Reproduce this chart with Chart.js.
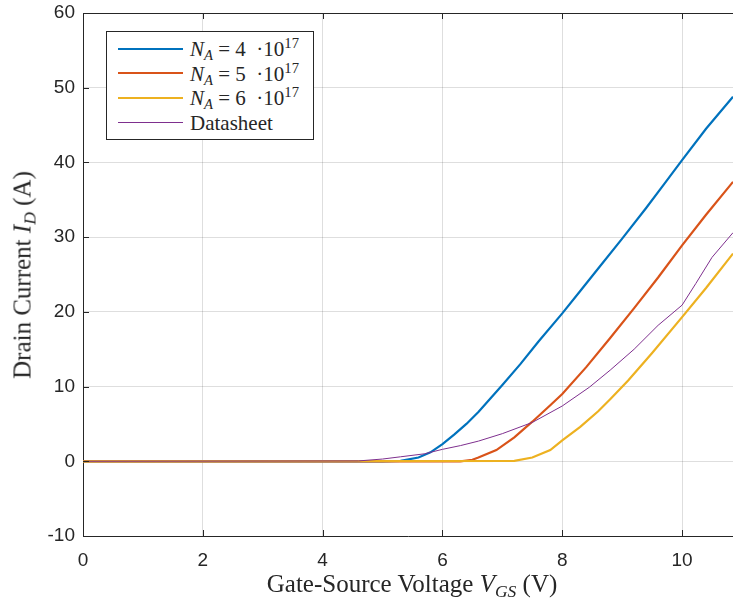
<!DOCTYPE html>
<html>
<head>
<meta charset="utf-8">
<title>Drain current vs gate-source voltage</title>
<script src="https://cdn.jsdelivr.net/npm/chart.js@4/dist/chart.umd.min.js"></script>
<style>
    html, body { margin: 0; padding: 0; background: #fff; }
    #wrap { position: relative; width: 733px; height: 605px; overflow: hidden; }
    .axis-title {
        position: absolute;
        font-family: 'Liberation Serif', 'Times New Roman', serif;
        font-size: 25px;
        color: #262626;
        white-space: nowrap;
        line-height: 1;
    }
    .axis-title sub, .legend sub { font-size: 0.7em; vertical-align: -0.3em; line-height: 0; }
    .legend sup { font-size: 0.7em; vertical-align: 0.5em; line-height: 0; }
    #xTitle { left: 412px; top: 583px; transform: translate(-50%, -50%); }
    #yTitle { left: 22px; top: 275px; transform: translate(-50%, -50%) rotate(-90deg); }
    .legend {
        position: absolute;
        left: 106px; top: 31px; width: 206px; height: 107px;
        border: 1px solid #262626;
        background: #fff;
        font-family: 'Liberation Serif', 'Times New Roman', serif;
        font-size: 21px;
        color: #262626;
    }
    .legend .row { position: absolute; left: 0; height: 24px; width: 100%; }
    .legend .swatch { position: absolute; left: 11px; width: 65px; top: 50%; }
    .legend .label { position: absolute; left: 83px; top: 50%; transform: translateY(-50%); white-space: nowrap; line-height: 1; }
</style>
</head>
<body>
<div id="wrap">
    <canvas id="chart" width="733" height="605"></canvas>
    <div class="axis-title" id="xTitle">Gate-Source Voltage <i>V</i><sub><i>GS</i></sub> (V)</div>
    <div class="axis-title" id="yTitle">Drain Current <i>I</i><sub><i>D</i></sub> (A)</div>
    <div class="legend" id="legend"></div>
</div>

<script>
// Simulated curves for three doping levels, plus the datasheet curve
var vgsNA4 = [0, 5.0, 5.3, 5.6, 5.8, 6.0, 6.2, 6.4, 6.6, 6.8, 7.0, 7.3, 7.6, 8.0, 8.3, 8.6, 9.0, 9.4, 9.7, 10.0, 10.4, 10.85];
var idNA4  = [0, 0, 0.05, 0.5, 1.2, 2.3, 3.6, 5.0, 6.6, 8.4, 10.2, 13.0, 16.0, 19.8, 22.8, 25.8, 29.8, 33.9, 37.1, 40.3, 44.5, 48.8];

var vgsNA5 = [0, 6.3, 6.5, 6.6, 6.9, 7.2, 7.5, 7.8, 8.0, 8.4, 8.8, 9.2, 9.6, 10.0, 10.4, 10.85];
var idNA5  = [0, 0, 0.2, 0.5, 1.5, 3.2, 5.3, 7.5, 9.0, 12.6, 16.5, 20.5, 24.6, 28.9, 33.0, 37.4];

var vgsNA6 = [0, 7.2, 7.5, 7.8, 8.0, 8.3, 8.6, 8.8, 9.1, 9.5, 10.0, 10.4, 10.85];
var idNA6  = [0, 0.05, 0.5, 1.5, 2.8, 4.6, 6.7, 8.3, 10.8, 14.5, 19.3, 23.2, 27.8];

var vgsSheet = [0, 4.6, 5.0, 5.3, 5.7, 6.0, 6.3, 6.6, 7.0, 7.5, 8.0, 8.45, 8.8, 9.2, 9.6, 10.0, 10.23, 10.5, 10.85];
var idSheet  = [0, 0.05, 0.3, 0.6, 1.0, 1.6, 2.1, 2.7, 3.7, 5.2, 7.4, 9.9, 12.2, 15.0, 18.2, 20.9, 23.8, 27.3, 30.6];

var xTicks = [0, 2, 4, 6, 8, 10];
var yTicks = [-10, 0, 10, 20, 30, 40, 50, 60];

var seriesLabels = [
    '<i>N</i><sub><i>A</i></sub> = 4 &nbsp;&middot;10<sup>17</sup>',
    '<i>N</i><sub><i>A</i></sub> = 5 &nbsp;&middot;10<sup>17</sup>',
    '<i>N</i><sub><i>A</i></sub> = 6 &nbsp;&middot;10<sup>17</sup>',
    'Datasheet'
];
var seriesColors = ['#0072BD', '#D95319', '#EDB120', '#7E2F8E'];
var seriesWidths = [2.2, 2.2, 2.2, 1];

function toPoints(xs, ys) {
    return xs.map(function (v, i) { return { x: v, y: ys[i] }; });
}

var allX = [vgsNA4, vgsNA5, vgsNA6, vgsSheet];
var allY = [idNA4, idNA5, idNA6, idSheet];

var datasets = allX.map(function (xs, i) {
    return {
        label: 'series' + i,
        data: toPoints(xs, allY[i]),
        borderColor: seriesColors[i],
        backgroundColor: seriesColors[i],
        borderWidth: seriesWidths[i],
        pointRadius: 0,
        tension: 0,
        order: 3 - i
    };
});

// legend (html so the sub/superscripts work)
var legend = document.getElementById('legend');
seriesLabels.forEach(function (lab, i) {
    var row = document.createElement('div');
    row.className = 'row';
    row.style.top = (5 + i * 24.5) + 'px';
    row.innerHTML = '<div class="swatch" style="border-top:' + seriesWidths[i] + 'px solid ' + seriesColors[i] +
        ';margin-top:-' + (seriesWidths[i] / 2) + 'px"></div><div class="label">' + lab + '</div>';
    legend.appendChild(row);
});

// box + inward tick marks like matlab
var frameTicks = {
    id: 'frameTicks',
    afterDatasetsDraw: function (chart) {
        var ctx = chart.ctx, a = chart.chartArea;
        var x = chart.scales.x, y = chart.scales.y;
        ctx.save();
        ctx.strokeStyle = '#262626';
        ctx.lineWidth = 1;
        ctx.beginPath();
        ctx.moveTo(a.left, a.top + 0.5);
        ctx.lineTo(a.right, a.top + 0.5);
        xTicks.forEach(function (v) {
            var px = Math.round(x.getPixelForValue(v)) + 0.5;
            ctx.moveTo(px, a.bottom); ctx.lineTo(px, a.bottom - 6);
            ctx.moveTo(px, a.top); ctx.lineTo(px, a.top + 6);
        });
        yTicks.forEach(function (v) {
            var py = Math.round(y.getPixelForValue(v)) + 0.5;
            ctx.moveTo(a.left, py); ctx.lineTo(a.left + 6, py);
        });
        ctx.stroke();
        ctx.restore();
    }
};

// no auto padding for overflowing tick labels, the box is fixed
function noPad(s) {
    s.paddingTop = 0; s.paddingBottom = 0;
    s.paddingLeft = 0; s.paddingRight = 0;
}

var tickFont = { family: "'Liberation Sans', Arial, sans-serif", size: 19 };

new Chart(document.getElementById('chart'), {
    type: 'line',
    data: { datasets: datasets },
    plugins: [frameTicks],
    options: {
        responsive: false,
        animation: false,
        layout: { padding: { top: 13, right: 0, left: 0, bottom: 0 } },
        plugins: {
            legend: { display: false },
            tooltip: { enabled: false }
        },
        scales: {
            x: {
                type: 'linear',
                min: 0,
                max: 10.85,
                afterFit: function (s) { s.height = 69; noPad(s); },
                afterBuildTicks: function (s) {
                    s.ticks = xTicks.map(function (v) { return { value: v }; });
                },
                grid: { color: 'rgba(0,0,0,0.13)', drawTicks: false },
                border: { color: '#262626', width: 1 },
                ticks: { font: tickFont, color: '#262626', padding: 13, maxRotation: 0 }
            },
            y: {
                type: 'linear',
                min: -10,
                max: 60,
                afterFit: function (s) { s.width = 83; noPad(s); },
                afterBuildTicks: function (s) {
                    s.ticks = yTicks.map(function (v) { return { value: v }; });
                },
                grid: { color: 'rgba(0,0,0,0.13)', drawTicks: false },
                border: { color: '#262626', width: 1 },
                ticks: { font: tickFont, color: '#262626', padding: 8 }
            }
        }
    }
});
</script>
</body>
</html>
